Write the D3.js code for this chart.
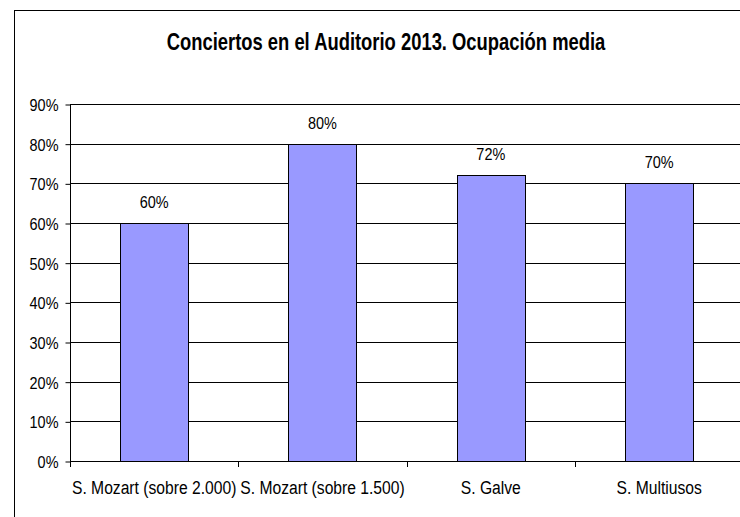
<!DOCTYPE html>
<html>
<head>
<meta charset="utf-8">
<script src="https://cdn.jsdelivr.net/npm/d3@7"></script>
<style>
  body { margin: 0; background: white; }
  svg text { font-family: "Liberation Sans", Arial, sans-serif; fill: #000; }
</style>
</head>
<body>
<div id="chart"></div>
<script>
// chart data
let categories = ['S. Mozart (sobre 2.000)', 'S. Mozart (sobre 1.500)', 'S. Galve', 'S. Multiusos'];
let occupancy = [0.60, 0.80, 0.72, 0.70];
let yTicks = [0, 0.1, 0.2, 0.3, 0.4, 0.5, 0.6, 0.7, 0.8, 0.9];
let title = 'Conciertos en el Auditorio 2013. Ocupación media';

let dim = { width: 740, height: 517 };
let plot = { left: 70, right: 743.3, top: 104, bottom: 461 };

// no narrow font available, so squeeze the text horizontally
function narrow(sel, s) {
    sel.each(function() {
        let t = d3.select(this);
        let tx = +t.attr('x') || 0;
        let ty = +t.attr('y') || 0;
        t.attr('x', 0).attr('y', 0)
         .attr('transform', `translate(${tx},${ty}) scale(${s},1)`);
    });
}

let svg = d3.select('#chart').append('svg')
    .attr('width', dim.width)
    .attr('height', dim.height)
    .style('display', 'block');

// outer chart frame (runs past the window on the right and bottom)
svg.append('rect')
    .attr('x', 14.5).attr('y', 10.5)
    .attr('width', 800).attr('height', 600)
    .attr('fill', 'white')
    .attr('stroke', '#000')
    .attr('stroke-width', 1);

svg.append('text')
    .attr('x', 386)
    .attr('y', 49.5)
    .attr('text-anchor', 'middle')
    .style('font-size', '23px')
    .style('font-weight', 'bold')
    .text(title)
    .call(narrow, 0.8);

let x = d3.scaleBand()
    .domain(categories)
    .range([plot.left, plot.right])
    .paddingInner(0.596)
    .paddingOuter(0.298);

let y = d3.scaleLinear()
    .domain([0, 0.9])
    .range([plot.bottom, plot.top]);

// gridlines
svg.append('g')
    .selectAll('line')
    .data(yTicks.slice(1))
    .join('line')
    .attr('x1', plot.left)
    .attr('x2', plot.right)
    .attr('y1', d => Math.round(y(d)) + 0.5)
    .attr('y2', d => Math.round(y(d)) + 0.5)
    .attr('stroke', '#000')
    .attr('stroke-width', 1);

// bars
svg.append('g')
    .selectAll('rect')
    .data(occupancy)
    .join('rect')
    .attr('x', (d, i) => Math.round(x(categories[i])) + 0.5)
    .attr('y', d => Math.round(y(d)) + 0.5)
    .attr('width', x.bandwidth())
    .attr('height', d => Math.round(y(0)) - Math.round(y(d)))
    .attr('fill', '#9999ff')
    .attr('stroke', '#000')
    .attr('stroke-width', 1);

// value labels
svg.append('g')
    .selectAll('text')
    .data(occupancy)
    .join('text')
    .attr('x', (d, i) => x(categories[i]) + x.bandwidth() / 2)
    .attr('y', d => y(d) - 15)
    .attr('text-anchor', 'middle')
    .style('font-size', '17px')
    .text(d => d3.format('.0%')(d))
    .call(narrow, 0.85);

// y axis
let yAxis = d3.axisLeft(y)
    .tickValues(yTicks)
    .tickFormat(d3.format('.0%'))
    .tickSize(5)
    .tickPadding(7);

svg.append('g')
    .attr('transform', `translate(${plot.left + 0.5},0.5)`)
    .call(yAxis)
    .call(g => g.select('.domain').attr('d', `M0,${plot.top}V${plot.bottom + 5}`).attr('stroke', '#000'))
    .call(g => g.selectAll('line').attr('stroke', '#000'))
    .call(g => g.selectAll('text')
        .style('font-size', '17px')
        .attr('fill', '#000')
        .attr('dy', null)
        .attr('y', 6)
        .call(narrow, 0.85));

// x axis: ticks sit between categories
let boundaries = categories.map(c => x(c) - x.step() * x.paddingOuter()).concat([plot.right]);

let xg = svg.append('g');
xg.append('line')
    .attr('x1', plot.left).attr('x2', plot.right)
    .attr('y1', Math.round(plot.bottom) + 0.5).attr('y2', Math.round(plot.bottom) + 0.5)
    .attr('stroke', '#000');
xg.selectAll('line.tick')
    .data(boundaries)
    .join('line')
    .attr('class', 'tick')
    .attr('x1', d => Math.round(d) + 0.5)
    .attr('x2', d => Math.round(d) + 0.5)
    .attr('y1', plot.bottom)
    .attr('y2', plot.bottom + 6)
    .attr('stroke', '#000');
xg.selectAll('text')
    .data(categories)
    .join('text')
    .attr('x', d => x(d) + x.bandwidth() / 2)
    .attr('y', 494)
    .attr('text-anchor', 'middle')
    .style('font-size', '18px')
    .text(d => d)
    .call(narrow, 0.87);
</script>
</body>
</html>
